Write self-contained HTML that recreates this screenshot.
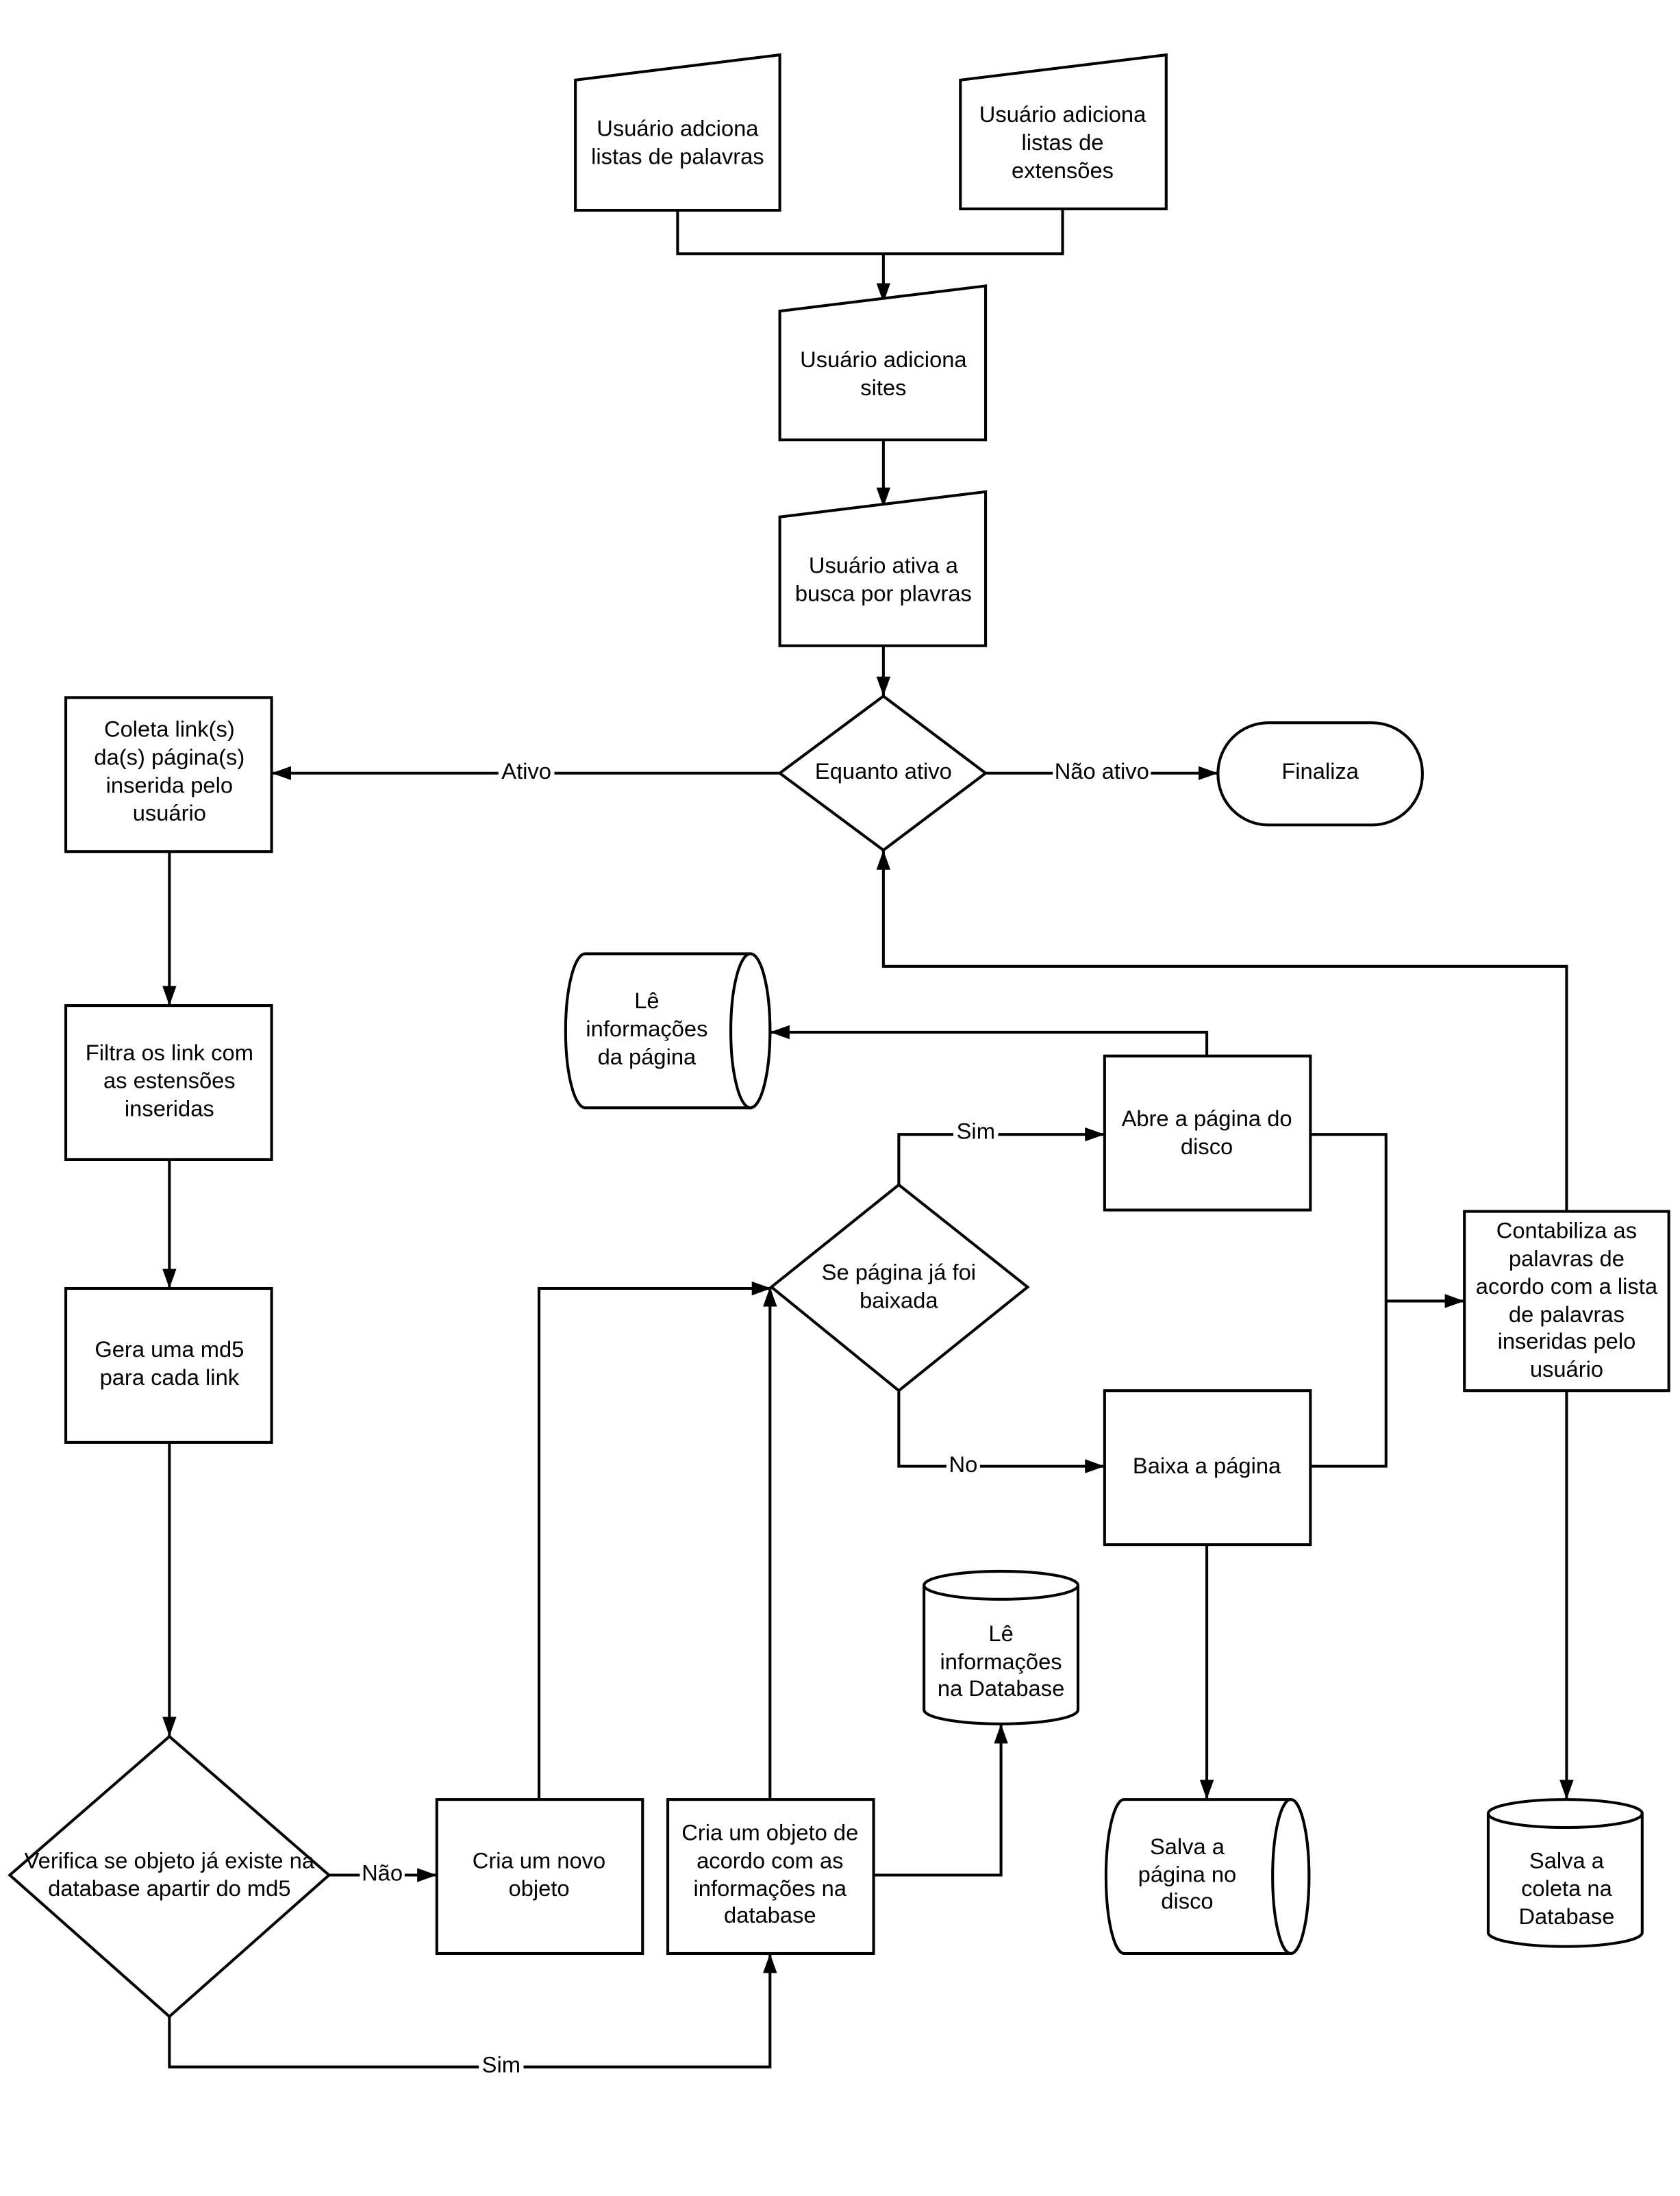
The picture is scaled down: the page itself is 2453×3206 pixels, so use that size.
<!DOCTYPE html>
<html><head><meta charset="utf-8"><style>
html,body{margin:0;padding:0;background:#fff;}
svg{display:block;}
text{font-family:"Liberation Sans",sans-serif;font-size:16px;fill:#000;text-anchor:middle;}
.s{fill:#fff;stroke:#000;stroke-width:2;}
.l{fill:none;stroke:#000;stroke-width:2;}
</style></head><body>
<svg width="2453" height="3206" viewBox="0 0 1200 1568" xmlns="http://www.w3.org/2000/svg">
<defs><marker id="a" viewBox="0 0 14 10" refX="14" refY="5" markerWidth="14" markerHeight="10" markerUnits="userSpaceOnUse" orient="auto"><path d="M0,0L14,5L0,10z" fill="#000"/></marker></defs>
<rect width="1200" height="1568" fill="#fff"/>
<path class="l" d="M484,150V181H759V149"/>
<path class="l" d="M631,181V216" marker-end="url(#a)"/>
<path class="l" d="M631,314V362" marker-end="url(#a)"/>
<path class="l" d="M631,461V497" marker-end="url(#a)"/>
<path class="l" d="M704,552H870" marker-end="url(#a)"/>
<path class="l" d="M557,552H194" marker-end="url(#a)"/>
<path class="l" d="M121,608V718" marker-end="url(#a)"/>
<path class="l" d="M121,828V920" marker-end="url(#a)"/>
<path class="l" d="M121,1030V1240" marker-end="url(#a)"/>
<path class="l" d="M235,1339H312" marker-end="url(#a)"/>
<path class="l" d="M121,1440V1476H550V1395" marker-end="url(#a)"/>
<path class="l" d="M385,1285V920H551" marker-end="url(#a)"/>
<path class="l" d="M550,1285V919" marker-end="url(#a)"/>
<path class="l" d="M642,846V810H789" marker-end="url(#a)"/>
<path class="l" d="M642,993V1047H789" marker-end="url(#a)"/>
<path class="l" d="M862,754V737H550" marker-end="url(#a)"/>
<path class="l" d="M936,810H990V1047H936"/>
<path class="l" d="M990,929H1046" marker-end="url(#a)"/>
<path class="l" d="M1119,865V690H631V607" marker-end="url(#a)"/>
<path class="l" d="M1119,993V1285" marker-end="url(#a)"/>
<path class="l" d="M862,1103V1285" marker-end="url(#a)"/>
<path class="l" d="M624,1339H715V1231" marker-end="url(#a)"/>
<g>
<rect x="356" y="542" width="40" height="18" fill="#fff"/><text x="376" y="556">Ativo</text>
<rect x="752" y="542" width="70" height="18" fill="#fff"/><text x="787" y="556">Não ativo</text>
<rect x="257" y="1329" width="32" height="18" fill="#fff"/><text x="273" y="1343">Não</text>
<rect x="342" y="1466" width="32" height="18" fill="#fff"/><text x="358" y="1480">Sim</text>
<rect x="681" y="799" width="32" height="18" fill="#fff"/><text x="697" y="813">Sim</text>
<rect x="676" y="1037" width="24" height="18" fill="#fff"/><text x="688" y="1051">No</text>
</g>
<path class="s" d="M411,57L557,39V150H411Z"/>
<text x="484" y="97">Usuário adciona</text><text x="484" y="117">listas de palavras</text>
<path class="s" d="M686,57L833,39V149H686Z"/>
<text x="759" y="87">Usuário adiciona</text><text x="759" y="107">listas de</text><text x="759" y="127">extensões</text>
<path class="s" d="M557,222L704,204V314H557Z"/>
<text x="631" y="262">Usuário adiciona</text><text x="631" y="282">sites</text>
<path class="s" d="M557,369L704,351V461H557Z"/>
<text x="631" y="409">Usuário ativa a</text><text x="631" y="429">busca por plavras</text>
<path class="s" d="M631,497L704,552L631,607L557,552Z"/>
<text x="631" y="556">Equanto ativo</text>
<rect class="s" x="870" y="516" width="146" height="73" rx="36"/>
<text x="943" y="556">Finaliza</text>
<rect class="s" x="47" y="498" width="147" height="110"/>
<text x="121" y="526">Coleta link(s)</text><text x="121" y="546">da(s) página(s)</text><text x="121" y="566">inserida pelo</text><text x="121" y="586">usuário</text>
<rect class="s" x="47" y="718" width="147" height="110"/>
<text x="121" y="757">Filtra os link com</text><text x="121" y="777">as estensões</text><text x="121" y="797">inseridas</text>
<rect class="s" x="47" y="920" width="147" height="110"/>
<text x="121" y="969">Gera uma md5</text><text x="121" y="989">para cada link</text>
<path class="s" d="M121,1240L235,1339L121,1440L7,1339Z"/>
<text x="121" y="1334">Verifica se objeto já existe na</text><text x="121" y="1354">database apartir do md5</text>
<rect class="s" x="312" y="1285" width="147" height="110"/>
<text x="385" y="1334">Cria um novo</text><text x="385" y="1354">objeto</text>
<rect class="s" x="477" y="1285" width="147" height="110"/>
<text x="550" y="1314">Cria um objeto de</text><text x="550" y="1334">acordo com as</text><text x="550" y="1354">informações na</text><text x="550" y="1373">database</text>
<path class="s" d="M642,846L734,919L642,993L551,919Z"/>
<text x="642" y="914">Se página já foi</text><text x="642" y="934">baixada</text>
<rect class="s" x="789" y="754" width="147" height="110"/>
<text x="862" y="804">Abre a página do</text><text x="862" y="824">disco</text>
<rect class="s" x="789" y="993" width="147" height="110"/>
<text x="862" y="1052">Baixa a página</text>
<rect class="s" x="1046" y="865" width="146" height="128"/>
<text x="1119" y="884">Contabiliza as</text><text x="1119" y="904">palavras de</text><text x="1119" y="924">acordo com a lista</text><text x="1119" y="944">de palavras</text><text x="1119" y="963">inseridas pelo</text><text x="1119" y="983">usuário</text>
<path class="s" d="M418,681H536A14,55 0 0 1 536,791H418A14,55 0 0 1 418,681Z"/>
<ellipse class="s" cx="536" cy="736" rx="14" ry="55"/>
<text x="462" y="720">Lê</text><text x="462" y="740">informações</text><text x="462" y="760">da página</text>
<path class="s" d="M803,1285H922A13,55 0 0 1 922,1395H803A13,55 0 0 1 803,1285Z"/>
<ellipse class="s" cx="922" cy="1340" rx="13" ry="55"/>
<text x="848" y="1324">Salva a</text><text x="848" y="1344">página no</text><text x="848" y="1363">disco</text>
<path class="s" d="M660,1132A55,10 0 0 1 770,1132V1221A55,10 0 0 1 660,1221Z"/>
<path class="l" d="M660,1132A55,10 0 0 0 770,1132"/>
<text x="715" y="1172">Lê</text><text x="715" y="1192">informações</text><text x="715" y="1211">na Database</text>
<path class="s" d="M1063,1295A55,10 0 0 1 1173,1295V1380A55,10 0 0 1 1063,1380Z"/>
<path class="l" d="M1063,1295A55,10 0 0 0 1173,1295"/>
<text x="1119" y="1334">Salva a</text><text x="1119" y="1354">coleta na</text><text x="1119" y="1374">Database</text>
</svg>
</body></html>
